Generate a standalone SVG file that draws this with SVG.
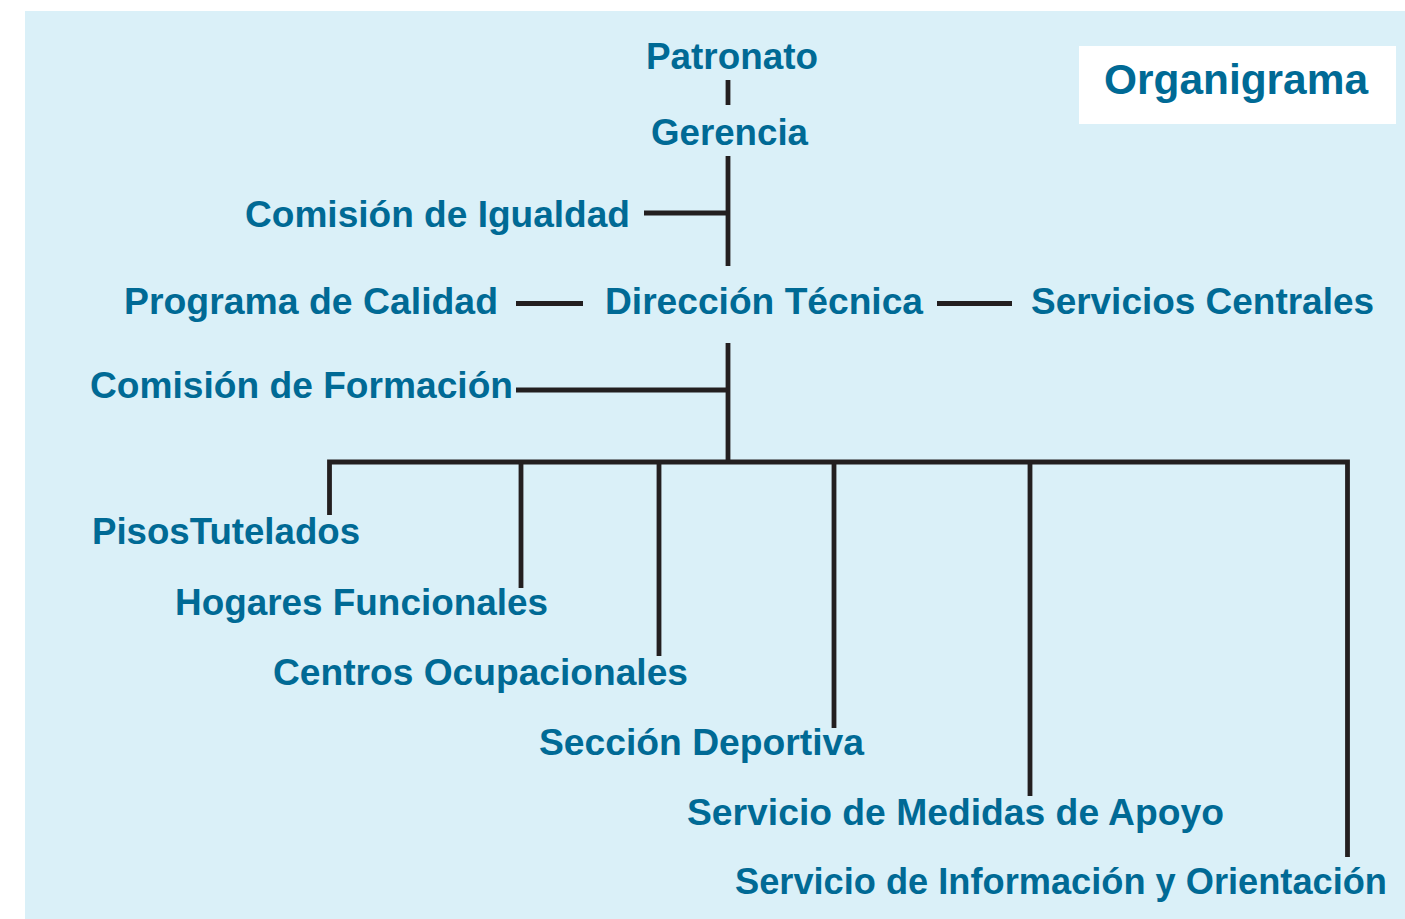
<svg xmlns="http://www.w3.org/2000/svg" width="1405" height="919" viewBox="0 0 1405 919">
<style>
.t{font-family:"Liberation Sans",Arial,Helvetica,sans-serif;font-weight:bold;font-size:36px;fill:#006a95}
.c{stroke:#231f20;stroke-width:4.8;fill:none;stroke-linecap:butt}
</style>
<rect x="0" y="0" width="1405" height="919" fill="#ffffff"/>
<rect x="25" y="11" width="1380" height="908" fill="#daf0f8"/>
<g id="title">
<rect x="1079" y="46" width="317" height="78" fill="#ffffff"/>
<text class="t" x="1104" y="94" style="font-size:42px" textLength="264" lengthAdjust="spacingAndGlyphs">Organigrama</text>
</g>
<g id="connectors">
<line class="c" x1="728" y1="80" x2="728" y2="105"/>
<line class="c" x1="728" y1="156" x2="728" y2="266"/>
<line class="c" x1="644" y1="213" x2="728" y2="213"/>
<line class="c" x1="516" y1="303.5" x2="583" y2="303.5"/>
<line class="c" x1="937" y1="303.5" x2="1012" y2="303.5"/>
<line class="c" x1="728" y1="343" x2="728" y2="462"/>
<line class="c" x1="516" y1="390" x2="728" y2="390"/>
<polyline class="c" points="329.5,515 329.5,462 1347.5,462 1347.5,857"/>
<line class="c" x1="521" y1="462" x2="521" y2="588"/>
<line class="c" x1="659" y1="462" x2="659" y2="656"/>
<line class="c" x1="834" y1="462" x2="834" y2="728"/>
<line class="c" x1="1030" y1="462" x2="1030" y2="796"/>
</g>
<g id="patronato"><text class="t" x="646" y="69" textLength="172" lengthAdjust="spacingAndGlyphs">Patronato</text></g>
<g id="gerencia"><text class="t" x="651" y="145" textLength="157" lengthAdjust="spacingAndGlyphs">Gerencia</text></g>
<g id="comision-igualdad"><text class="t" x="245" y="227" textLength="385" lengthAdjust="spacingAndGlyphs">Comisión de Igualdad</text></g>
<g id="programa-calidad"><text class="t" x="124" y="314" textLength="374" lengthAdjust="spacingAndGlyphs">Programa de Calidad</text></g>
<g id="direccion-tecnica"><text class="t" x="605" y="314" textLength="318" lengthAdjust="spacingAndGlyphs">Dirección Técnica</text></g>
<g id="servicios-centrales"><text class="t" x="1031" y="314" textLength="343" lengthAdjust="spacingAndGlyphs">Servicios Centrales</text></g>
<g id="comision-formacion"><text class="t" x="90" y="398" textLength="423" lengthAdjust="spacingAndGlyphs">Comisión de Formación</text></g>
<g id="pisos-tutelados"><text class="t" x="92" y="544" textLength="268" lengthAdjust="spacingAndGlyphs">PisosTutelados</text></g>
<g id="hogares-funcionales"><text class="t" x="175" y="615" textLength="373" lengthAdjust="spacingAndGlyphs">Hogares Funcionales</text></g>
<g id="centros-ocupacionales"><text class="t" x="273" y="685" textLength="415" lengthAdjust="spacingAndGlyphs">Centros Ocupacionales</text></g>
<g id="seccion-deportiva"><text class="t" x="539" y="755" textLength="325" lengthAdjust="spacingAndGlyphs">Sección Deportiva</text></g>
<g id="servicio-medidas"><text class="t" x="687" y="825" textLength="537" lengthAdjust="spacingAndGlyphs">Servicio de Medidas de Apoyo</text></g>
<g id="servicio-informacion"><text class="t" x="735" y="894" textLength="652" lengthAdjust="spacingAndGlyphs">Servicio de Información y Orientación</text></g>
</svg>
